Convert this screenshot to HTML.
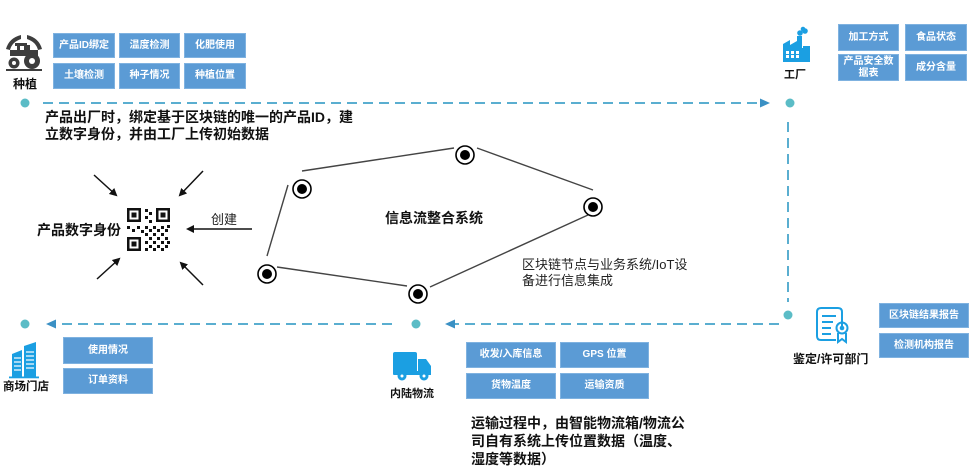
<!DOCTYPE html>
<html><head><meta charset="utf-8">
<style>
*{margin:0;padding:0;box-sizing:border-box}
html,body{width:972px;height:470px;background:#fff;overflow:hidden}
body{position:relative;font-family:"Liberation Sans","Noto Sans CJK SC",sans-serif;color:#111}
.b{position:absolute;background:#5b9bd5;color:#fff;font-weight:bold;font-size:10px;display:flex;align-items:center;justify-content:center;text-align:center;line-height:12px;border:1px solid #7fb2e0}
.t{position:absolute;white-space:nowrap}
.bold{font-weight:bold}
svg{position:absolute;left:0;top:0}
</style></head><body>
<svg width="972" height="470" viewBox="0 0 972 470">
  <g stroke="#5aaed0" stroke-width="2" fill="none" stroke-dasharray="10 6">
    <line x1="43" y1="103" x2="763" y2="103"/>
    <line x1="788" y1="122" x2="788" y2="302"/>
    <line x1="779" y1="324" x2="452" y2="324"/>
    <line x1="392" y1="324" x2="54" y2="324"/>
  </g>
  <polygon points="770,103 760,98.5 760,107.5" fill="#3a90c4"/>
  <polygon points="445,324 455,319.5 455,328.5" fill="#3a90c4"/>
  <polygon points="46,324 56,319.5 56,328.5" fill="#3a90c4"/>
  <g fill="#5bbcc6">
    <circle cx="25" cy="103" r="4.5"/>
    <circle cx="790" cy="103" r="4.5"/>
    <circle cx="788" cy="315" r="4.5"/>
    <circle cx="416" cy="324" r="4.5"/>
    <circle cx="25" cy="324" r="4.5"/>
  </g>
  <g stroke="#444" stroke-width="1.4" fill="none">
    <line x1="302" y1="171" x2="454" y2="148"/>
    <line x1="477" y1="148" x2="593" y2="190"/>
    <line x1="588" y1="215" x2="430" y2="287"/>
    <line x1="407" y1="286" x2="277" y2="267"/>
    <line x1="267" y1="256" x2="288" y2="185"/>
  </g>
  <g>
    <g transform="translate(302,189)"><circle r="9" fill="#fff" stroke="#000" stroke-width="1.6"/><circle r="5" fill="#000"/></g>
    <g transform="translate(465,155)"><circle r="9" fill="#fff" stroke="#000" stroke-width="1.6"/><circle r="5" fill="#000"/></g>
    <g transform="translate(593,207)"><circle r="9" fill="#fff" stroke="#000" stroke-width="1.6"/><circle r="5" fill="#000"/></g>
    <g transform="translate(267,274)"><circle r="9" fill="#fff" stroke="#000" stroke-width="1.6"/><circle r="5" fill="#000"/></g>
    <g transform="translate(418,294)"><circle r="9" fill="#fff" stroke="#000" stroke-width="1.6"/><circle r="5" fill="#000"/></g>
  </g>
  <defs>
    <marker id="ah" markerWidth="8" markerHeight="8" refX="6" refY="4" orient="auto" markerUnits="userSpaceOnUse">
      <polygon points="0,0 8,4 0,8" fill="#111"/>
    </marker>
  </defs>
  <g stroke="#111" stroke-width="1.5" marker-end="url(#ah)">
    <line x1="94" y1="175" x2="116" y2="195"/>
    <line x1="203" y1="171" x2="180" y2="195"/>
    <line x1="97" y1="279" x2="119" y2="259"/>
    <line x1="203" y1="285" x2="181" y2="263"/>
    <line x1="252" y1="229" x2="188" y2="229"/>
  </g>
  <g fill="#111" transform="translate(127,208)">
    <rect x="0" y="0" width="14" height="14"/><rect x="2.5" y="2.5" width="9" height="9" fill="#fff"/><rect x="4.5" y="4.5" width="5" height="5"/>
    <rect x="29" y="0" width="14" height="14"/><rect x="31.5" y="2.5" width="9" height="9" fill="#fff"/><rect x="33.5" y="4.5" width="5" height="5"/>
    <rect x="0" y="29" width="14" height="14"/><rect x="2.5" y="31.5" width="9" height="9" fill="#fff"/><rect x="4.5" y="33.5" width="5" height="5"/>
    <rect x="18" y="1" width="3" height="3"/><rect x="22" y="4" width="3" height="3"/><rect x="18" y="8" width="3" height="3"/><rect x="22" y="12" width="3" height="3"/>
    <rect x="0" y="18" width="3" height="3"/><rect x="5" y="21" width="3" height="3"/><rect x="10" y="18" width="3" height="3"/><rect x="14" y="22" width="3" height="3"/>
    <rect x="18" y="18" width="3" height="3"/><rect x="22" y="21" width="3" height="3"/><rect x="26" y="18" width="3" height="3"/><rect x="30" y="21" width="3" height="3"/><rect x="34" y="18" width="3" height="3"/><rect x="38" y="21" width="3" height="3"/><rect x="40" y="17" width="3" height="3"/>
    <rect x="18" y="25" width="3" height="3"/><rect x="26" y="25" width="3" height="3"/><rect x="34" y="25" width="3" height="3"/><rect x="22" y="29" width="3" height="3"/><rect x="30" y="29" width="3" height="3"/><rect x="38" y="29" width="3" height="3"/>
    <rect x="18" y="33" width="3" height="3"/><rect x="26" y="33" width="3" height="3"/><rect x="34" y="33" width="3" height="3"/><rect x="40" y="33" width="3" height="3"/>
    <rect x="22" y="37" width="3" height="3"/><rect x="30" y="37" width="3" height="3"/><rect x="38" y="37" width="3" height="3"/>
    <rect x="18" y="40" width="3" height="3"/><rect x="26" y="40" width="3" height="3"/><rect x="34" y="40" width="3" height="3"/>
  </g>
  <!-- tractor icon -->
  <g fill="#3d3d3d">
    <path d="M6,49 Q9,38 21,35 L21,39 Q12,42 10,50 Z"/>
    <path d="M42,49 Q39,38 27,35 L27,39 Q36,42 38,50 Z"/>
    <rect x="15" y="43" width="12" height="3"/>
    <rect x="17" y="45" width="3" height="6"/>
    <rect x="24" y="45" width="6" height="9"/>
    <rect x="10" y="50" width="28" height="6"/>
    <circle cx="32" cy="61" r="8"/>
    <circle cx="14" cy="63" r="5.5"/>
    <rect x="6" y="69" width="36" height="2"/>
  </g>
  <g fill="#fff"><circle cx="32" cy="61" r="3"/><circle cx="14" cy="63" r="2"/></g>
  <!-- factory icon -->
  <g fill="#1b9fe2">
    <rect x="797" y="36" width="5" height="14"/>
    <circle cx="800" cy="33" r="2.8"/><circle cx="805" cy="31" r="2.8"/><circle cx="803" cy="29" r="2.3"/>
    <path d="M783,62 L783,44 L790,40 L790,45 L797,41 L797,48 L803,48 L804,62 Z"/>
    <rect x="803" y="46" width="7" height="16"/>
  </g>
  <g fill="#fff"><rect x="786" y="51" width="3" height="3"/><rect x="791" y="51" width="3" height="3"/><rect x="796" y="51" width="3" height="3"/><rect x="786" y="55" width="3" height="3"/><rect x="791" y="55" width="3" height="3"/><rect x="796" y="55" width="3" height="3"/></g>
  <!-- store icon -->
  <g fill="#1b9fe2">
    <path d="M12,378 L12,354 L22,350 L22,378 Z"/>
    <path d="M24,378 L24,346 L36,342 L36,378 Z"/>
    <rect x="9" y="376.5" width="30" height="1.8"/>
  </g>
  <g stroke="#fff" stroke-width="1.2"><line x1="14" y1="358" x2="21" y2="358"/><line x1="14" y1="362" x2="21" y2="362"/><line x1="14" y1="366" x2="21" y2="366"/><line x1="14" y1="370" x2="21" y2="370"/><line x1="26" y1="352" x2="34" y2="352"/><line x1="26" y1="356" x2="34" y2="356"/><line x1="26" y1="360" x2="34" y2="360"/><line x1="26" y1="364" x2="34" y2="364"/><line x1="26" y1="368" x2="34" y2="368"/></g>
  <!-- truck icon -->
  <g fill="#1b9fe2">
    <rect x="393" y="352" width="24" height="21" rx="2"/>
    <path d="M418,359 L426,359 L431,366 L431,375 L418,375 Z"/>
    <rect x="393" y="371" width="38" height="4" rx="1"/>
    <circle cx="402" cy="376" r="4.5"/><circle cx="424" cy="376" r="4.5"/>
  </g>
  <g fill="#fff"><circle cx="402" cy="376" r="1.5"/><circle cx="424" cy="376" r="1.5"/></g>
  <!-- certificate icon -->
  <g fill="none" stroke="#1b9fe2" stroke-width="2">
    <path d="M842,326 L842,312 Q842,308 838,308 L821,308 Q817,308 817,312 L817,336 Q817,340 821,340 L836,340"/>
    <line x1="822" y1="316" x2="836" y2="316"/>
    <line x1="822" y1="322" x2="833" y2="322"/>
    <line x1="822" y1="328" x2="831" y2="328"/>
    <line x1="822" y1="334" x2="831" y2="334"/>
    <circle cx="842" cy="328" r="5.5"/>
    <path d="M838,333 L838,342 L842,339 L846,342 L846,333"/>
  </g>
  <circle cx="842" cy="328" r="2.3" fill="#1b9fe2"/>
</svg>

<div class="b" style="left:53px;top:33px;width:62px;height:25px">产品ID绑定</div>
<div class="b" style="left:119px;top:33px;width:61px;height:25px">温度检测</div>
<div class="b" style="left:184px;top:33px;width:62px;height:25px">化肥使用</div>
<div class="b" style="left:53px;top:63px;width:62px;height:26px">土壤检测</div>
<div class="b" style="left:119px;top:63px;width:61px;height:26px">种子情况</div>
<div class="b" style="left:184px;top:63px;width:62px;height:26px">种植位置</div>
<div class="t bold" style="left:13px;top:75px;font-size:12px">种植</div>

<div class="t bold" style="left:45px;top:109px;font-size:14px;line-height:17px">产品出厂时，绑定基于区块链的唯一的产品ID，建<br>立数字身份，并由工厂上传初始数据</div>

<div class="b" style="left:838px;top:24px;width:61px;height:27px">加工方式</div>
<div class="b" style="left:905px;top:24px;width:62px;height:27px">食品状态</div>
<div class="b" style="left:838px;top:54px;width:61px;height:27px">产品安全数<br>据表</div>
<div class="b" style="left:905px;top:54px;width:62px;height:27px">成分含量</div>
<div class="t bold" style="left:784px;top:66px;font-size:11px">工厂</div>

<div class="t bold" style="left:37px;top:220px;font-size:14px">产品数字身份</div>
<div class="t" style="left:211px;top:209px;font-size:13px;color:#222">创建</div>
<div class="t bold" style="left:385px;top:208px;font-size:14px">信息流整合系统</div>
<div class="t" style="left:522px;top:257px;font-size:13px;line-height:16px;color:#222">区块链节点与业务系统/IoT设<br>备进行信息集成</div>

<div class="b" style="left:63px;top:337px;width:90px;height:27px">使用情况</div>
<div class="b" style="left:63px;top:368px;width:90px;height:26px">订单资料</div>
<div class="t bold" style="left:3px;top:378px;font-size:11.5px">商场门店</div>

<div class="b" style="left:466px;top:342px;width:90px;height:26px">收发/入库信息</div>
<div class="b" style="left:560px;top:342px;width:89px;height:26px">GPS 位置</div>
<div class="b" style="left:466px;top:373px;width:90px;height:26px">货物温度</div>
<div class="b" style="left:560px;top:373px;width:89px;height:26px">运输资质</div>
<div class="t bold" style="left:390px;top:385px;font-size:11px">内陆物流</div>
<div class="t bold" style="left:471px;top:414px;font-size:14px;line-height:18px">运输过程中，由智能物流箱/物流公<br>司自有系统上传位置数据（温度、<br>湿度等数据）</div>

<div class="b" style="left:879px;top:303px;width:90px;height:25px">区块链结果报告</div>
<div class="b" style="left:879px;top:333px;width:90px;height:25px">检测机构报告</div>
<div class="t bold" style="left:793px;top:350px;font-size:12px">鉴定/许可部门</div>
</body></html>
